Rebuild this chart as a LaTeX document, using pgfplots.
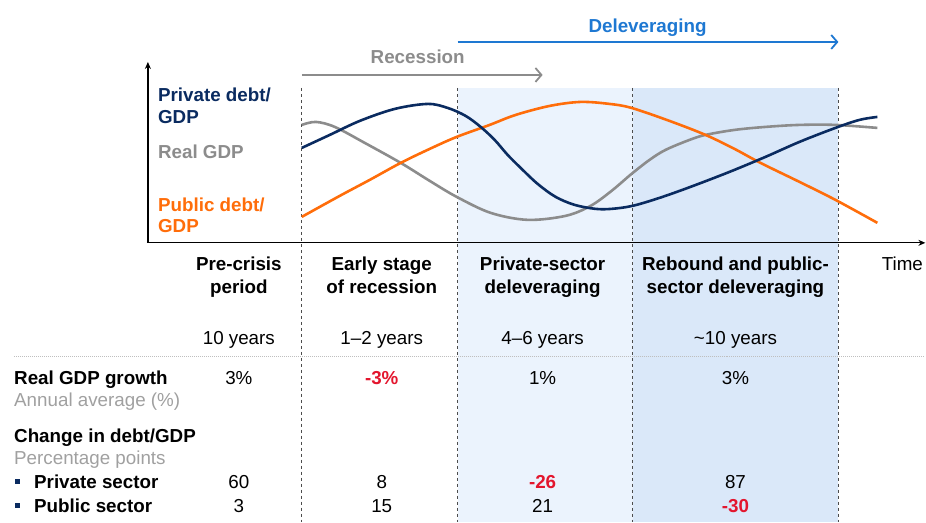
\documentclass[border=0pt]{standalone}
\usepackage{pgfplots}
\pgfplotsset{compat=1.18}
\usepackage{fontspec}
\setmainfont{Liberation Sans}
\usetikzlibrary{arrows.meta}
\definecolor{navy}{HTML}{0A2B60}
\definecolor{orng}{HTML}{FF6D0A}
\definecolor{gdpgray}{HTML}{8C8C8C}
\definecolor{subgray}{HTML}{A0A0A0}
\definecolor{lblue}{HTML}{EBF3FD}
\definecolor{mblue}{HTML}{DAE8F9}
\definecolor{arrblue}{HTML}{1E78D2}
\definecolor{negred}{HTML}{E3162E}
\begin{document}
\begin{tikzpicture}[
  t/.style={font=\fontsize{18.8}{21}\selectfont, inner sep=0pt, anchor=base},
  tl/.style={t, anchor=base west},
  tb/.style={t, font=\fontsize{18.8}{21}\selectfont\bfseries},
  tbl/.style={tb, anchor=base west}]
\begin{axis}[width=926pt,height=522pt,scale only axis,
  xmin=0,xmax=926,ymin=0,ymax=522,y dir=reverse,
  axis lines=none,clip=false]
\path (axis cs:0,0) rectangle (axis cs:926,522);
% shaded phases
\fill[lblue] (axis cs:458,88) rectangle (axis cs:633,522);
\fill[mblue] (axis cs:633,88) rectangle (axis cs:839,522);
% dotted separator
\draw[gray!50, line width=0.8pt, dash pattern=on 1pt off 1pt] (axis cs:14,357) -- (axis cs:926,357);
% dashed phase boundaries
\foreach \xx in {302,458,633,839} {
  \edef\tmp{\noexpand\draw[black!70, line width=0.8pt, dash pattern=on 3pt off 3pt] (axis cs:\xx,88) -- (axis cs:\xx,522);}
  \tmp
}
% axes
\draw[line width=1.3pt, -{Stealth[length=7pt,width=6pt]}] (axis cs:148,243) -- (axis cs:148,62);
\draw[line width=1.3pt, -{Stealth[length=7pt,width=6pt]}] (axis cs:147,243) -- (axis cs:926,243);
% top arrows
\draw[gdpgray, line width=1.8pt, -{Straight Barb[length=6pt,width=14pt]}] (axis cs:302,75) -- (axis cs:543,75);
\node[tb, text=gdpgray] at (axis cs:418,64) {Recession};
\draw[arrblue, line width=1.8pt, -{Straight Barb[length=6pt,width=14pt]}] (axis cs:458,42) -- (axis cs:839,42);
\node[tb, text=arrblue] at (axis cs:648,33) {Deleveraging};
% curves
\addplot[gdpgray, line width=2.6pt, smooth, tension=0.55] coordinates {
(302,125)(316,122)(335,127)(365,143)(401,163)(430,181)(457,197)(491,213)(528,220)(566,216)(591,206)(612,191)(632,174)(650,160)(666,150)(690,140)(706,135)(735,130)(766,127)(800,125)(836,125)(878,128)};
\addplot[orng, line width=2.6pt, smooth, tension=0.55] coordinates {
(302,217)(340,196)(370,180)(401,163)(430,149)(457,137)(490,125)(516,115)(550,106)(581,102)(610,104)(632,108)(670,121)(706,135)(735,149)(761,163)(800,182)(836,200)(878,223)};
\addplot[navy, line width=2.6pt, smooth, tension=0.55] coordinates {
(302,148)(330,135)(360,121)(395,109)(428,104)(448,108)(466,116)(481,127)(495,140)(508,155)(521,168)(538,184)(556,197)(575,205)(596,209)(612,209)(633,206)(660,198)(691,187)(730,172)(766,157)(800,142)(836,128)(860,120)(878,117)};
% curve labels
\node[tbl, text=navy] at (axis cs:158,102) {Private debt/};
\node[tbl, text=navy] at (axis cs:158,124) {GDP};
\node[tbl, text=gdpgray] at (axis cs:158,159) {Real GDP};
\node[tbl, text=orng] at (axis cs:158,212) {Public debt/};
\node[tbl, text=orng] at (axis cs:158,233) {GDP};
% column headers
\node[tb] at (axis cs:239,271) {Pre-crisis};
\node[tb] at (axis cs:239,294) {period};
\node[tb] at (axis cs:382,271) {Early stage};
\node[tb] at (axis cs:382,294) {of recession};
\node[tb] at (axis cs:543,271) {Private-sector};
\node[tb] at (axis cs:543,294) {deleveraging};
\node[tb] at (axis cs:736,271) {Rebound and public-};
\node[tb] at (axis cs:736,294) {sector deleveraging};
\node[t] at (axis cs:903,271) {Time};
% durations
\node[t] at (axis cs:239,345) {10 years};
\node[t] at (axis cs:382,345) {1--2 years};
\node[t] at (axis cs:543,345) {4--6 years};
\node[t] at (axis cs:736,345) {\textasciitilde10 years};
% table rows
\node[tbl] at (axis cs:14,385) {Real GDP growth};
\node[tl, text=subgray] at (axis cs:14,407) {Annual average (\%)};
\node[t] at (axis cs:239,385) {3\%};
\node[tb, text=negred] at (axis cs:382,385) {-3\%};
\node[t] at (axis cs:543,385) {1\%};
\node[t] at (axis cs:736,385) {3\%};
\node[tbl] at (axis cs:14,443) {Change in debt/GDP};
\node[tl, text=subgray] at (axis cs:14,465) {Percentage points};
\fill[navy] (axis cs:15,479) rectangle (axis cs:20,484);
\fill[navy] (axis cs:15,503) rectangle (axis cs:20,508);
\node[tbl] at (axis cs:34,489) {Private sector};
\node[tbl] at (axis cs:34,513) {Public sector};
\node[t] at (axis cs:239,489) {60};
\node[t] at (axis cs:382,489) {8};
\node[tb, text=negred] at (axis cs:543,489) {-26};
\node[t] at (axis cs:736,489) {87};
\node[t] at (axis cs:239,513) {3};
\node[t] at (axis cs:382,513) {15};
\node[t] at (axis cs:543,513) {21};
\node[tb, text=negred] at (axis cs:736,513) {-30};
\end{axis}
\end{tikzpicture}
\end{document}
